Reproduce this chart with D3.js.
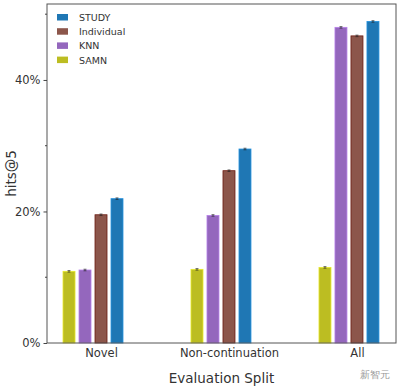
<!DOCTYPE html>
<html>
<head>
<meta charset="utf-8">
<script src="https://cdn.jsdelivr.net/npm/d3@7"></script>
<style>
  body { margin: 0; background: #fff; }
  text { font-family: "DejaVu Sans", sans-serif; }
</style>
</head>
<body>
<div class="container"></div>
<script>

const splits = ['Novel', 'Non-continuation', 'All'];
const series = ['SAMN', 'KNN', 'Individual', 'STUDY'];
const legendOrder = ['STUDY', 'Individual', 'KNN', 'SAMN'];
const colors = ['#bcbd22', '#9467bd', '#8c564b', '#1f77b4'];
const samn = [10.9, 11.2, 11.5];
const knn = [11.1, 19.4, 48.0];
const individual = [19.5, 26.2, 46.7];
const study = [21.95, 29.5, 48.9];
const yTicks = [0, 20, 40];
const yMinor = [10, 30, 50];

const renderChart = () => {
  const width = 400;
  const height = 390;
  const left = 47, right = 396, top = 4, bottom = 343;

  const values = [samn, knn, individual, study];

  const svg = d3.select('.container')
    .append('svg')
    .attr('width', width)
    .attr('height', height);

  const xScale = d3.scaleLinear()
    .domain([-0.422, 2.305])
    .range([left, right]);

  // 5 slots per group, the last one is empty
  const inner = d3.scaleBand()
    .domain(series.concat(['_']))
    .range([-0.3125, 0.3125]);

  const yScale = d3.scaleLinear()
    .domain([0, 51.55])
    .range([bottom, top]);

  const barW = (xScale(1) - xScale(0)) * inner.bandwidth() * 0.75;

  series.forEach((s, si) => {
    const g = svg.append('g');
    g.selectAll('rect')
      .data(values[si])
      .enter()
      .append('rect')
      .attr('x', (d, i) => xScale(i + inner(s) + inner.bandwidth() / 2) - barW / 2)
      .attr('y', d => yScale(d))
      .attr('width', barW)
      .attr('height', d => yScale(0) - yScale(d))
      .attr('fill', colors[si])
      .attr('stroke', s === 'Individual' ? '#6b1a10' : d3.color(colors[si]).brighter(0.6))
      .attr('stroke-width', 0.8);

    // small error bars
    g.selectAll('path')
      .data(values[si])
      .enter()
      .append('path')
      .attr('d', (d, i) => {
        const cx = xScale(i + inner(s) + inner.bandwidth() / 2);
        const y1 = yScale(d + 0.12), y2 = yScale(d - 0.12);
        return `M${cx - 1.5},${y1}H${cx + 1.5}M${cx},${y1}V${y2}M${cx - 1.5},${y2}H${cx + 1.5}`;
      })
      .attr('stroke', '#222')
      .attr('stroke-width', 0.6)
      .attr('fill', 'none');
  });

  // frame
  svg.append('rect')
    .attr('x', left)
    .attr('y', top)
    .attr('width', right - left)
    .attr('height', bottom - top)
    .attr('fill', 'none')
    .attr('stroke', '#555')
    .attr('stroke-width', 1);

  const yAxis = d3.axisLeft(yScale)
    .tickValues(yTicks)
    .tickFormat(d => d + '%')
    .tickSize(3.5)
    .tickPadding(3);

  const ya = svg.append('g')
    .attr('transform', `translate(${left},0)`)
    .call(yAxis);
  ya.select('.domain').remove();
  ya.selectAll('text').attr('font-size', 11.5).attr('fill', '#333');
  ya.selectAll('line').attr('stroke', '#444');

  svg.append('g')
    .selectAll('line')
    .data(yMinor)
    .enter()
    .append('line')
    .attr('x1', left - 2)
    .attr('x2', left)
    .attr('y1', d => yScale(d))
    .attr('y2', d => yScale(d))
    .attr('stroke', '#444');

  const xAxis = d3.axisBottom(xScale)
    .tickValues([0, 1, 2])
    .tickFormat(i => splits[i])
    .tickSize(0)
    .tickPadding(6);

  const xa = svg.append('g')
    .attr('transform', `translate(0,${bottom})`)
    .call(xAxis);
  xa.select('.domain').remove();
  xa.selectAll('text').attr('font-size', 11.5).attr('fill', '#333');

  svg.append('text')
    .attr('x', (left + right) / 2)
    .attr('y', 383)
    .attr('text-anchor', 'middle')
    .attr('font-size', 13.5)
    .attr('fill', '#333')
    .text('Evaluation Split');

  svg.append('text')
    .attr('transform', `translate(16,${(top + bottom) / 2}) rotate(-90)`)
    .attr('text-anchor', 'middle')
    .attr('font-size', 13.5)
    .attr('fill', '#333')
    .text('hits@5');

  // legend
  const lg = svg.append('g')
    .selectAll('g')
    .data(legendOrder)
    .enter()
    .append('g')
    .attr('transform', (d, i) => `translate(57,${14 + i * 14.2})`);
  lg.append('rect')
    .attr('width', 11)
    .attr('height', 6.5)
    .attr('fill', d => colors[series.indexOf(d)]);
  lg.append('text')
    .attr('x', 22)
    .attr('y', 7)
    .attr('font-size', 9.5)
    .attr('fill', '#333')
    .text(d => d);

  // watermark
  svg.append('text')
    .attr('x', 360)
    .attr('y', 378)
    .attr('font-size', 10)
    .attr('fill', '#999')
    .attr('font-family', '"Noto Sans CJK SC"')
    .text('新智元');
};

renderChart();
</script>
</body>
</html>
